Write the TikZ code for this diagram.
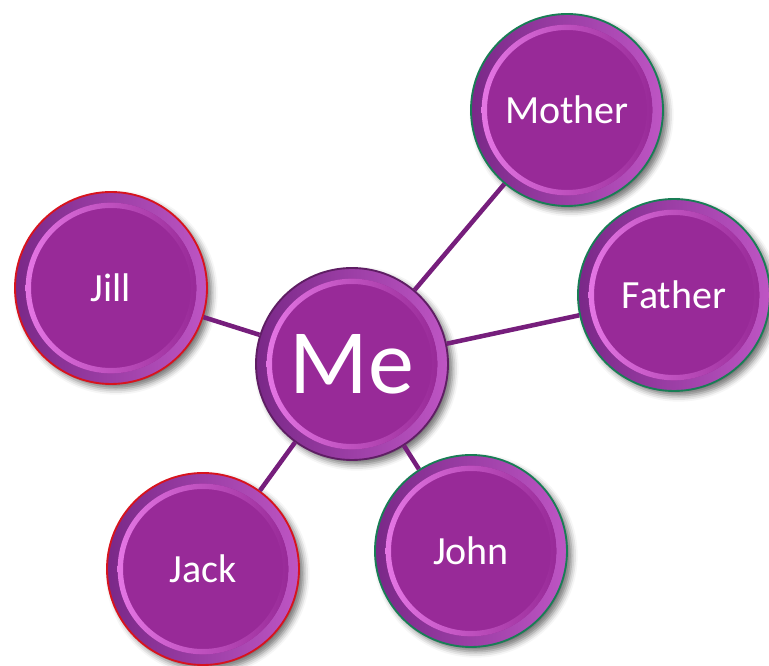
\documentclass[tikz,border=0pt]{standalone}
\usepackage{fontspec}
\setmainfont{Carlito}
\usepackage{tikz}
\usetikzlibrary{shadows.blur}

\definecolor{bubblefill}{RGB}{152,42,152}
\definecolor{rimdark}{RGB}{122,40,136}
\definecolor{rimlight}{RGB}{190,85,196}
\definecolor{bevel}{RGB}{228,118,228}
\definecolor{linkcol}{RGB}{118,30,124}
\definecolor{edgegreen}{RGB}{25,125,85}
\definecolor{edgered}{RGB}{215,20,30}
\definecolor{edgeplum}{RGB}{95,30,100}

\tikzset{
  bubble/.style={circle, minimum size=144pt, inner sep=0pt, fill=bubblefill,
    draw=#1, line width=1.4pt, text=white, font=\fontsize{30}{36}\selectfont,
    blur shadow={shadow xshift=3.5pt, shadow yshift=-3.5pt, shadow blur radius=4.5pt, shadow opacity=55},
    path picture={
      \coordinate (pc) at (path picture bounding box.center);
      \shade[even odd rule, left color=rimdark, middle color=bubblefill, right color=rimlight]
        (pc) circle (72pt) (pc) circle (64pt);
      \shade[even odd rule, left color=bevel, middle color=bubblefill!90!bevel, right color=bubblefill]
        (pc) circle (64pt) (pc) circle (60pt);
    }},
  link/.style={draw=linkcol, line width=3.4pt},
}

\begin{document}
\begin{tikzpicture}[x=0.75pt,y=0.75pt,yscale=-1,xscale=1]
\useasboundingbox (0,0) rectangle (769,666);

%Shape: Circle [Me]
\node [bubble=edgeplum, font=\fontsize{69}{72}\selectfont] (me) at (352,364) {Me};
%Shape: Circle [Mother]
\node [bubble=edgegreen] (mother) at (567,110) {Mother};
%Shape: Circle [Father]
\node [bubble=edgegreen] (father) at (674,295) {Father};
%Shape: Circle [John]
\node [bubble=edgegreen] (john) at (471,551) {John};
%Shape: Circle [Jill]
\node [bubble=edgered] (jill) at (111,288) {Jill};
%Shape: Circle [Jack]
\node [bubble=edgered] (jack) at (203,569) {Jack};

%Straight Lines
\draw [link] (me) -- (mother) ;
\draw [link] (me) -- (father) ;
\draw [link] (me) -- (john) ;
\draw [link] (me) -- (jill) ;
\draw [link] (me) -- (jack) ;

\end{tikzpicture}
\end{document}
